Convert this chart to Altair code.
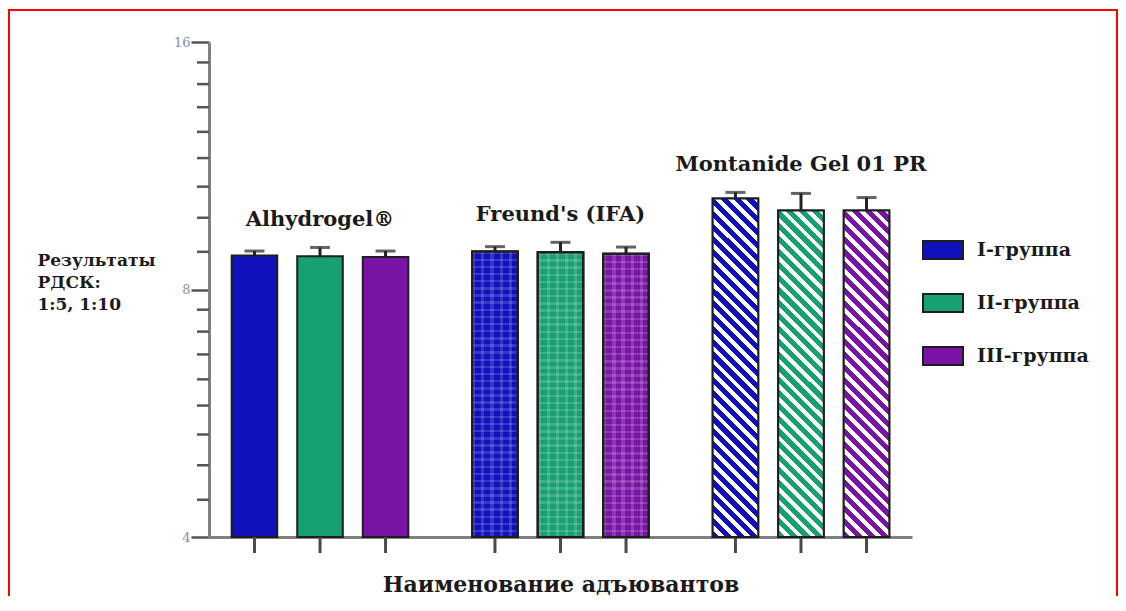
import math
import altair as alt
import pandas as pd

# ---------------- data ----------------
adjuvants = ["Alhydrogel®", "Freund's (IFA)", "Montanide Gel 01 PR"]
groups = ["I-группа", "II-группа", "III-группа"]
alhydrogel_mean = [8.80, 8.78, 8.76]
alhydrogel_upper = [8.91, 9.00, 8.91]
freund_mean = [8.90, 8.88, 8.84]
freund_upper = [9.02, 9.13, 9.01]
montanide_mean = [10.32, 9.98, 9.98]
montanide_upper = [10.50, 10.47, 10.35]
y_major = [4, 8, 16]
y_minor = [4.44, 4.89, 5.33, 5.78, 6.22, 6.67, 7.11, 7.56,
           8.89, 9.78, 10.67, 11.56, 12.44, 13.33, 14.22, 15.11]
y_title = ["Результаты", "РДСК:", "1:5, 1:10"]
x_title = "Наименование адъювантов"
colors = ["#1010bd", "#17a070", "#7a14a6"]

means = [alhydrogel_mean, freund_mean, montanide_mean]
uppers = [alhydrogel_upper, freund_upper, montanide_upper]
rows = []
for a, ms, us in zip(adjuvants, means, uppers):
    for g, m, u in zip(groups, ms, us):
        rows.append({"adjuvant": a, "group": g, "mean": m, "upper": u})
df = pd.DataFrame(rows)

# ---------------- layout / style ----------------
W, H = 703, 495
PAD_L, PAD_T, PAD_R, PAD_B = 201, 34, 206, 59
SERIF = "DejaVu Serif"
INK = "#1a1a1a"
EDGE = "#1e1e1e"
BAR_W = 45.5

x_scale = alt.Scale(domain=adjuvants, paddingInner=0.168, paddingOuter=0.0456)
xo_scale = alt.Scale(domain=groups, paddingInner=0.305, paddingOuter=0.179)
y_scale = alt.Scale(type="log", base=2, domain=[4, 16], nice=False)

X_AX = alt.X("adjuvant:N", sort=adjuvants, scale=x_scale,
             axis=alt.Axis(title=x_title, labels=False, ticks=False,
                           domainColor="#808080", domainWidth=3,
                           titleFont=SERIF, titleFontSize=22, titleFontWeight="bold",
                           titleColor=INK, titleY=54, titleBaseline="alphabetic"))
X_P = alt.X("adjuvant:N", sort=adjuvants, scale=x_scale)
XO = alt.XOffset("group:N", sort=groups, scale=xo_scale)

Y_AX = alt.Y("mean:Q", scale=y_scale,
             axis=alt.Axis(values=y_major, labelOverlap=False,
                           labelExpr="format(datum.value, 'd')",
                           tickSize=18, tickWidth=2.5, tickColor="#555555",
                           domainColor="#808080", domainWidth=3, grid=False,
                           labelFont=SERIF, labelFontSize=13, labelColor="#8a8aa8",
                           labelPadding=1,
                           title=y_title, titleAngle=0, titleAlign="left",
                           titleBaseline="top", titleX=-172, titleY=210,
                           titleFont=SERIF, titleFontSize=17, titleFontWeight="bold",
                           titleColor=INK, titleLineHeight=22))
Y_P = alt.Y("mean:Q", scale=y_scale)

base = alt.Chart(df)

bars = base.mark_bar(stroke=EDGE, strokeWidth=2).encode(
    x=X_AX, xOffset=XO, y=Y_AX, y2=alt.Y2Datum(4),
    color=alt.Color("group:N", sort=groups,
                    scale=alt.Scale(domain=groups, range=colors),
                    legend=alt.Legend(title=None, orient="none", legendX=713, legendY=187,
                                      symbolType="M-1,-0.45H1V0.45H-1Z", symbolSize=1600,
                                      symbolStrokeColor=EDGE, symbolStrokeWidth=2,
                                      symbolOpacity=1, labelFont=SERIF,
                                      labelFontWeight="bold", labelFontSize=19,
                                      labelColor=INK, labelOffset=13, rowPadding=19,
                                      padding=0, labelLimit=300)))

# x-axis ticks under each bar
xticks = base.mark_rule(color="#4a4a4a", strokeWidth=3, y2Offset=16).encode(
    x=X_P, xOffset=XO, y=alt.YDatum(4), y2=alt.Y2Datum(4))


def stripe_gradient(color, mean):
    h = H * math.log2(mean / 4) / 2
    k = (BAR_W + h) / (BAR_W ** 2 + h ** 2)
    n = round((BAR_W + h) / 13)
    stops = []
    for i in range(n):
        a, b, c = i / n, (i + 0.56) / n, (i + 1) / n
        stops += [alt.GradientStop(color=color, offset=round(a, 5)),
                  alt.GradientStop(color=color, offset=round(b, 5)),
                  alt.GradientStop(color="#ffffff", offset=round(b, 5)),
                  alt.GradientStop(color="#ffffff", offset=round(min(c, 1), 5))]
    return alt.LinearGradient(gradient="linear", stops=stops,
                              x1=0, y1=1, x2=round(k * BAR_W, 5), y2=round(1 - k * h, 5))


def line_gradient(n, vertical, alpha):
    on = "rgba(255,255,255,%s)" % alpha
    off = "rgba(255,255,255,0)"
    stops = []
    for i in range(n):
        a, b, c = i / n, (i + 0.35) / n, (i + 1) / n
        stops += [alt.GradientStop(color=on, offset=round(a, 5)),
                  alt.GradientStop(color=on, offset=round(b, 5)),
                  alt.GradientStop(color=off, offset=round(b, 5)),
                  alt.GradientStop(color=off, offset=round(min(c, 1), 5))]
    if vertical:
        return alt.LinearGradient(gradient="linear", stops=stops, x1=0, y1=0, x2=1, y2=0)
    return alt.LinearGradient(gradient="linear", stops=stops, x1=0, y1=0, x2=0, y2=1)


montanide_layers = []
for g, col, m in zip(groups, colors, montanide_mean):
    montanide_layers.append(
        base.transform_filter((alt.datum.adjuvant == adjuvants[2]) & (alt.datum.group == g))
        .mark_bar(fill=stripe_gradient(col, m), stroke=EDGE, strokeWidth=2)
        .encode(x=X_P, xOffset=XO, y=Y_P, y2=alt.Y2Datum(4)))

freund_layers = []
for n, vert in [(40, False), (5, True)]:
    freund_layers.append(
        base.transform_filter(alt.datum.adjuvant == adjuvants[1])
        .mark_bar(fill=line_gradient(n, vert, 0.16), stroke=EDGE, strokeWidth=2)
        .encode(x=X_P, xOffset=XO, y=Y_P, y2=alt.Y2Datum(4)))

err = base.mark_rule(color="#222222", strokeWidth=3).encode(
    x=X_P, xOffset=XO, y=Y_P, y2="upper:Q")
caps = base.mark_tick(color="#222222", thickness=3, size=20).encode(
    x=X_P, xOffset=XO, y=alt.Y("upper:Q", scale=y_scale))

labels = base.transform_aggregate(top="max(upper)", groupby=["adjuvant"]).mark_text(
    font=SERIF, fontWeight="bold", fontSize=21, dy=-21, baseline="alphabetic", color=INK
).encode(x=X_P, y=alt.Y("top:Q", scale=y_scale), text="adjuvant:N")

minor_ticks = alt.Chart(pd.DataFrame({"mean": y_minor})).mark_rule(
    color="#555555", strokeWidth=2.5).encode(
    y=alt.Y("mean:Q", scale=y_scale), x=alt.value(-12), x2=alt.value(0))

RIGHT = PAD_L + W + PAD_R - 1 - PAD_L
BOTTOM = H + PAD_B
one = alt.Chart(pd.DataFrame({"k": [0]}))
frame_left = one.mark_rule(color="#ff0000", strokeWidth=2).encode(
    x=alt.value(-200), y=alt.value(-32), y2=alt.value(BOTTOM))
frame_top = one.mark_rule(color="#ff0000", strokeWidth=2).encode(
    x=alt.value(-201), x2=alt.value(RIGHT + 1), y=alt.value(-32))
frame_right = one.mark_rule(color="#ff0000", strokeWidth=2).encode(
    x=alt.value(RIGHT), y=alt.value(-32), y2=alt.value(BOTTOM))

chart = alt.layer(
    bars, xticks, *montanide_layers, *freund_layers, err, caps, labels, minor_ticks,
    frame_left, frame_top, frame_right
).properties(
    width=W, height=H,
    padding={"left": PAD_L, "top": PAD_T, "right": PAD_R, "bottom": PAD_B},
    autosize=alt.AutoSizeParams(type="none"),
).configure_view(strokeOpacity=0)

chart.save("out.html", embed_options={"renderer": "svg", "actions": False})
